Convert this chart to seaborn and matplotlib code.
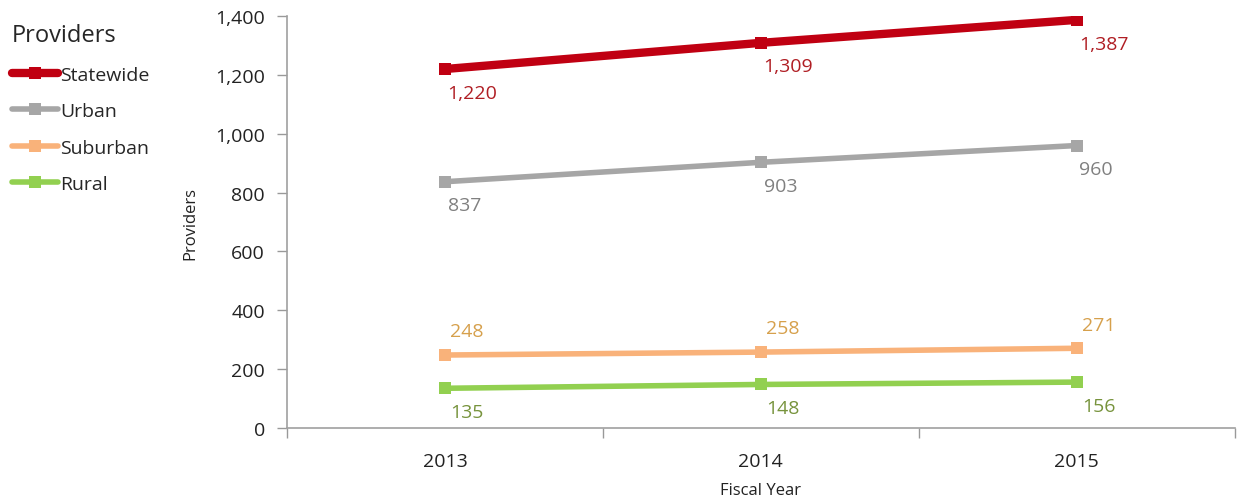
import matplotlib
matplotlib.use("Agg")
import matplotlib.pyplot as plt
import seaborn as sns
import pandas as pd
from matplotlib.ticker import FuncFormatter, FixedLocator

years = ["2013", "2014", "2015"]
series_names = ["Statewide", "Urban", "Suburban", "Rural"]
statewide = [1220, 1309, 1387]
urban = [837, 903, 960]
suburban = [248, 258, 271]
rural = [135, 148, 156]

line_colors = {"Statewide": "#C00012", "Urban": "#A6A6A6", "Suburban": "#F9B27A", "Rural": "#92D050"}
label_colors = {"Statewide": "#B01E24", "Urban": "#808080", "Suburban": "#D6A04C", "Rural": "#77933C"}
widths = {"Statewide": 6.0, "Urban": 4.0, "Suburban": 4.0, "Rural": 4.0}
# label offsets in points (dx, dy)
offsets = {"Statewide": (2, -17), "Urban": (2, -17), "Suburban": (4, 17), "Rural": (4, -17)}

values = {"Statewide": statewide, "Urban": urban, "Suburban": suburban, "Rural": rural}
rows = []
for s in series_names:
    for y, v in zip(years, values[s]):
        rows.append({"Fiscal Year": y, "Providers": v, "Series": s})
df = pd.DataFrame(rows)

sns.set_theme(style="white")
plt.rcParams["font.family"] = ["Open Sans", "DejaVu Sans"]

fig = plt.figure(figsize=(12.37, 5.02), dpi=100)
ax = fig.add_axes([0.232, 0.1454, 0.766, 0.8206])

for s in series_names:
    sub = df[df["Series"] == s]
    sns.lineplot(data=sub, x="Fiscal Year", y="Providers", ax=ax, color=line_colors[s],
                 linewidth=widths[s], marker="s", markersize=8 if s != "Statewide" else 9,
                 markeredgewidth=0, label=s, sort=False)

for s in series_names:
    for i, v in enumerate(values[s]):
        dx, dy = offsets[s]
        ax.annotate(f"{v:,}", (i, v), xytext=(dx, dy), textcoords="offset points",
                    ha="left", va="center", fontsize=14, color=label_colors[s])

ax.set_xlim(-0.5, 2.5)
ax.set_ylim(0, 1400)
ax.set_yticks(range(0, 1401, 200))
ax.yaxis.set_major_formatter(FuncFormatter(lambda v, p: f"{int(v):,}"))
ax.xaxis.set_minor_locator(FixedLocator([-0.5, 0.5, 1.5, 2.5]))
ax.tick_params(axis="x", which="major", length=0, pad=17, labelsize=14, colors="#222222")
ax.tick_params(axis="x", which="minor", length=7, width=1, color="#999999", direction="out", bottom=True)
ax.tick_params(axis="y", which="major", length=7, width=1, color="#999999", direction="out",
               labelsize=14, colors="#222222", left=True, pad=9)
for t in ax.get_yticklabels():
    t.set_color("#222222")
for sp in ["top", "right"]:
    ax.spines[sp].set_visible(False)
for sp in ["left", "bottom"]:
    ax.spines[sp].set_color("#A0A0A0")
    ax.spines[sp].set_linewidth(1.2)
ax.set_xlabel("Fiscal Year", fontsize=12, color="#222222", labelpad=9)
ax.set_ylabel("Providers", fontsize=12, color="#222222", labelpad=12)

handles, labels = ax.get_legend_handles_labels()
ax.get_legend().remove()
leg = fig.legend(handles, labels, loc="upper left", bbox_to_anchor=(0.0, 0.975), frameon=False,
                 title="Providers", title_fontsize=17, fontsize=14, handlelength=2.4,
                 handletextpad=0.1, labelspacing=0.95, borderaxespad=0.2)
leg._legend_box.align = "left"

fig.savefig("out.png", dpi=100)
